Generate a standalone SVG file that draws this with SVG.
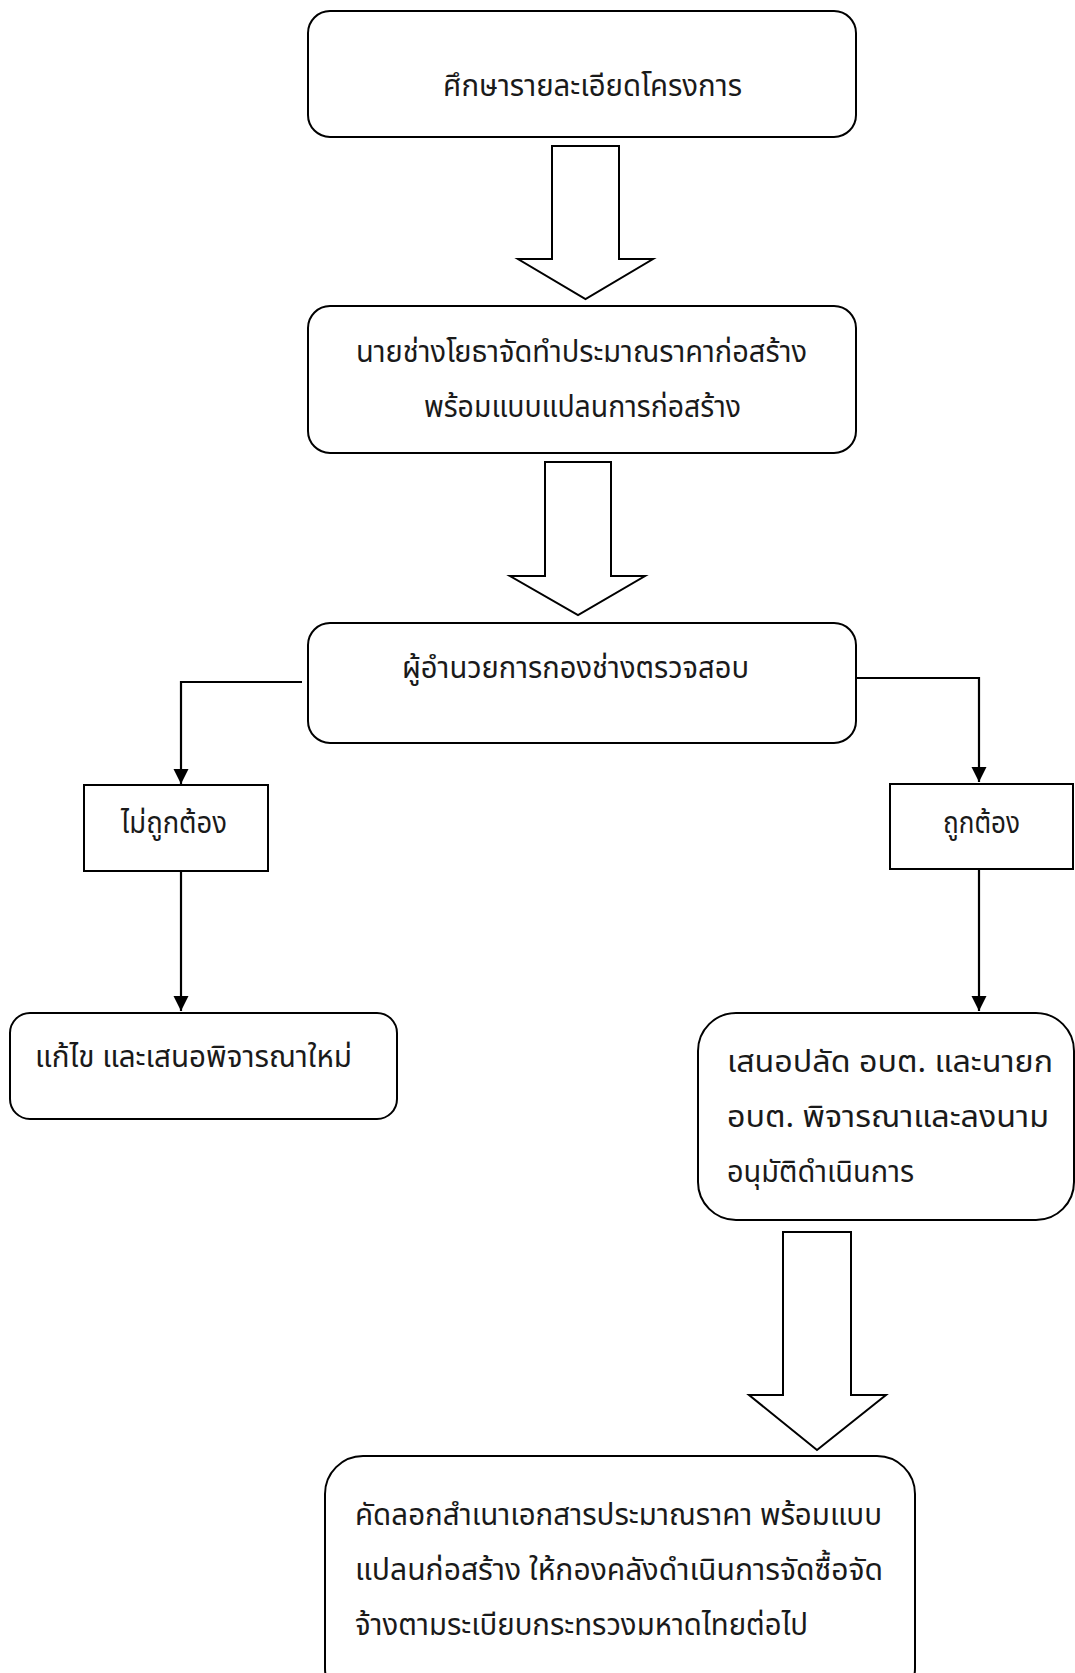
<svg xmlns="http://www.w3.org/2000/svg" width="1075" height="1673" viewBox="0 0 1075 1673">
<style>
.box{fill:#fff;stroke:#000;stroke-width:2}
.blk{fill:#fff;stroke:#000;stroke-width:2;stroke-linejoin:miter}
.ln{fill:none;stroke:#000;stroke-width:2.2}
text{font-family:"Noto Sans Thai","Noto Sans","Liberation Sans",sans-serif;font-size:30px;fill:#1a1a1a}
</style>
<defs>
<marker id="ah" viewBox="0 0 10 10" refX="10" refY="5" markerWidth="7" markerHeight="7" markerUnits="strokeWidth" orient="auto">
<path d="M0,0 L10,5 L0,10 Z" fill="#000"/>
</marker>
</defs>
<rect width="1075" height="1673" fill="#fff"/>
<g id="connectors">
<path class="blk" d="M552,146 H619 V259 H653 L585.5,299 L518,259 H552 Z"/>
<path class="blk" d="M545,462 H611 V576 H645 L578,615 L510,576 H545 Z"/>
<path class="blk" d="M783,1232 H851 V1395 H886 L817,1450 L749,1395 H783 Z"/>
<path class="ln" d="M302,682 H181 V784" marker-end="url(#ah)"/>
<path class="ln" d="M857,678 H979 V782" marker-end="url(#ah)"/>
<path class="ln" d="M181,871 V1011" marker-end="url(#ah)"/>
<path class="ln" d="M979,869 V1011" marker-end="url(#ah)"/>
</g>
<g id="n1">
<rect class="box" x="308" y="11" width="548" height="126" rx="22"/>
<text x="443" y="96" textLength="299" lengthAdjust="spacingAndGlyphs">ศึกษารายละเอียดโครงการ</text>
</g>
<g id="n2">
<rect class="box" x="308" y="306" width="548" height="147" rx="22"/>
<text x="356" y="362" textLength="451" lengthAdjust="spacingAndGlyphs">นายช่างโยธาจัดทำประมาณราคาก่อสร้าง</text>
<text x="424" y="417" textLength="317" lengthAdjust="spacingAndGlyphs">พร้อมแบบแปลนการก่อสร้าง</text>
</g>
<g id="n3">
<rect class="box" x="308" y="623" width="548" height="120" rx="22"/>
<text x="402" y="678" textLength="347" lengthAdjust="spacingAndGlyphs">ผู้อำนวยการกองช่างตรวจสอบ</text>
</g>
<g id="n4">
<rect class="box" x="84" y="785" width="184" height="86"/>
<text x="121" y="833" textLength="106" lengthAdjust="spacingAndGlyphs">ไม่ถูกต้อง</text>
</g>
<g id="n5">
<rect class="box" x="890" y="784" width="183" height="85"/>
<text x="943" y="833" textLength="77" lengthAdjust="spacingAndGlyphs">ถูกต้อง</text>
</g>
<g id="n6">
<rect class="box" x="10" y="1013" width="387" height="106" rx="20"/>
<text x="35" y="1067" textLength="317" lengthAdjust="spacingAndGlyphs">แก้ไข และเสนอพิจารณาใหม่</text>
</g>
<g id="n7">
<rect class="box" x="698" y="1013" width="376" height="207" rx="38"/>
<text x="727" y="1072" textLength="326" lengthAdjust="spacingAndGlyphs">เสนอปลัด อบต. และนายก</text>
<text x="727" y="1127" textLength="322" lengthAdjust="spacingAndGlyphs">อบต. พิจารณาและลงนาม</text>
<text x="727" y="1182" textLength="187" lengthAdjust="spacingAndGlyphs">อนุมัติดำเนินการ</text>
</g>
<g id="n8">
<rect class="box" x="325" y="1456" width="590" height="250" rx="38"/>
<text x="355" y="1525" textLength="527" lengthAdjust="spacingAndGlyphs">คัดลอกสำเนาเอกสารประมาณราคา พร้อมแบบ</text>
<text x="355" y="1580" textLength="528" lengthAdjust="spacingAndGlyphs">แปลนก่อสร้าง ให้กองคลังดำเนินการจัดซื้อจัด</text>
<text x="355" y="1635" textLength="453" lengthAdjust="spacingAndGlyphs">จ้างตามระเบียบกระทรวงมหาดไทยต่อไป</text>
</g>
</svg>
